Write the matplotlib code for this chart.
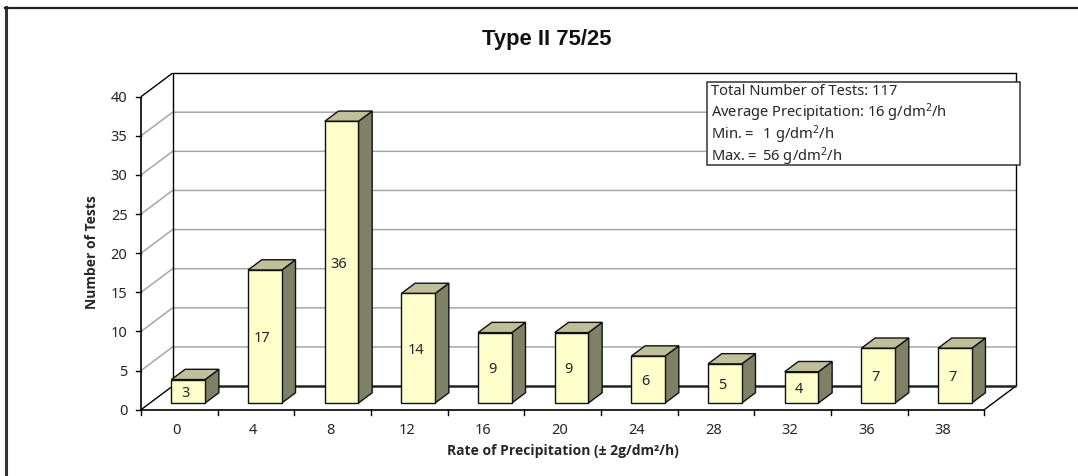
# -*- coding: utf-8 -*-

import matplotlib
matplotlib.use("Agg")
import matplotlib.pyplot as plt
from matplotlib.patches import Rectangle

plt.rcParams["font.family"] = ["Noto Sans", "DejaVu Sans"]
plt.rcParams["mathtext.default"] = "regular"

categories = ["0", "4", "8", "12", "16", "20", "24", "28", "32", "36", "38"]
counts = [3, 17, 36, 14, 9, 9, 6, 5, 4, 7, 7]
y_ticks = [0, 5, 10, 15, 20, 25, 30, 35, 40]
info_lines = [
    "Total Number of Tests: 117",
    "Average Precipitation: 16 g/dm$^2$/h",
    "Min.$=$  1 g/dm$^2$/h",
    "Max.$=$ 56 g/dm$^2$/h",
]

W, H = 1078, 476
# plot box in pixels, the axes limits are worked out from it
X0, Y0 = 141.0, 409.7
CAT_PX = 76.66
VAL_PX = 7.825
# oblique depth offset, in data units
DX = 31.6 / CAT_PX
DY = 23.6 / VAL_PX
BAR_W = 0.44
D_FRONT, D_BACK = 0.283, 0.717

TEXT = "#262626"
GRID = "#a6a6a6"
FRONT = "#ffffcc"
TOP = "#bfbf99"
SIDE = "#808066"


def project(x, y, depth=0.0):
    """Oblique projection of a point, depth 0 is the front and 1 the back wall"""
    return x + depth * DX, y + depth * DY


def line(points, **kw):
    xs, ys = zip(*points)
    ax.plot(xs, ys, solid_capstyle="butt", **kw)


def px(x, y):
    # figure pixels to axes fraction, for the things that are not data
    return x / W, 1 - y / H


fig = plt.figure(figsize=(W / 100, H / 100), dpi=100)
ax = fig.add_axes([0, 0, 1, 1])
ax.set_xlim(-X0 / CAT_PX, (W - X0) / CAT_PX)
ax.set_ylim((Y0 - H) / VAL_PX, Y0 / VAL_PX)
ax.axis("off")

n = len(categories)
top = y_ticks[-1]

# outer chart frame, only top and left fall inside the picture
ax.plot([px(6, 0)[0], px(6, H)[0]], [px(0, 7)[1], 0], color="#333333", lw=2.2, transform=ax.transAxes)
ax.plot([px(5, 0)[0], 1], [px(0, 7.5)[1]] * 2, color="#222222", lw=1.6, transform=ax.transAxes)

# gridlines on side and back wall
for v in y_ticks[1:-1]:
    line([project(0, v), project(0, v, 1), project(n, v, 1)], color=GRID, lw=1.1, zorder=1)

# walls and floor
line([project(0, 0, 1), project(0, top, 1), project(n, top, 1), project(n, 0, 1)], color="black", lw=1, zorder=2)
line([project(0, top), project(0, top, 1)], color="black", lw=1, zorder=2)
line([project(0, 0), project(0, 0, 1)], color="black", lw=1, zorder=2)
line([project(n, 0), project(n, 0, 1)], color="black", lw=1, zorder=2)
line([project(0, 0, 1), project(n, 0, 1)], color="#222222", lw=1.8, zorder=2)
line([project(0, 0), project(n, 0)], color="black", lw=1.2, zorder=2)
line([project(0, 0), project(0, top)], color="black", lw=1.2, zorder=2)

# y ticks
for v in y_ticks:
    ax.plot([-5 / CAT_PX, 0], [v, v], color="black", lw=1, zorder=2)
    ax.text(-13.5 / CAT_PX, v, str(v), ha="right", va="center_baseline", fontsize=10.5, color=TEXT)

# x ticks
for i in range(n + 1):
    ax.plot([i, i], [0, -5 / VAL_PX], color="black", lw=1, zorder=2)

for i, (name, c) in enumerate(zip(categories, counts)):
    left = i + 0.5 - BAR_W / 2
    right = i + 0.5 + BAR_W / 2
    side = [project(right, 0, D_FRONT), project(right, 0, D_BACK), project(right, c, D_BACK), project(right, c, D_FRONT)]
    roof = [project(left, c, D_FRONT), project(right, c, D_FRONT), project(right, c, D_BACK), project(left, c, D_BACK)]
    face = [project(left, 0, D_FRONT), project(right, 0, D_FRONT), project(right, c, D_FRONT), project(left, c, D_FRONT)]
    for pts, col in ((side, SIDE), (roof, TOP), (face, FRONT)):
        ax.fill(*zip(*pts), facecolor=col, edgecolor="#111111", lw=1, joinstyle="miter", zorder=3 + i)
    cx, cy = project(i + 0.5, c / 2, D_FRONT)
    ax.text(cx - 2.7 / CAT_PX, cy, str(c), ha="center", va="center_baseline", fontsize=10.5, color=TEXT, zorder=30)
    ax.text(i + 0.5 - 2.7 / CAT_PX, -18.3 / VAL_PX, name, ha="center", va="center_baseline", fontsize=10.5, color=TEXT)

# titles
x, y = px(546.7, 39)
ax.text(x, y, "Type II 75/25", transform=ax.transAxes, ha="center", va="center",
        fontsize=15.8, fontweight="bold", family="Liberation Sans", color="#111111")
x, y = px(562.7, 451)
ax.text(x, y, "Rate of Precipitation (\u00b1 2g/dm\u00b2/h)", transform=ax.transAxes, ha="center", va="center",
        fontsize=10, fontweight="bold", family="Open Sans", color=TEXT)
x, y = px(91.7, 251.7)
ax.text(x, y, "Number of Tests", transform=ax.transAxes, ha="center", va="center", rotation=90,
        fontsize=10, fontweight="bold", family="Open Sans", color=TEXT)

# info box
bx, by = px(707, 165)
bx2, by2 = px(1020, 81.7)
ax.add_patch(Rectangle((bx, by), bx2 - bx, by2 - by, transform=ax.transAxes, facecolor="white",
                       edgecolor="#333333", lw=1.1, zorder=40))
for label, ypx in zip(info_lines, [91.7, 112.7, 135, 156.7]):
    x, y = px(711, ypx)
    ax.text(x, y, label, transform=ax.transAxes, ha="left", va="center", fontsize=10.6, color=TEXT, zorder=41)

fig.savefig("out.png", dpi=100)
